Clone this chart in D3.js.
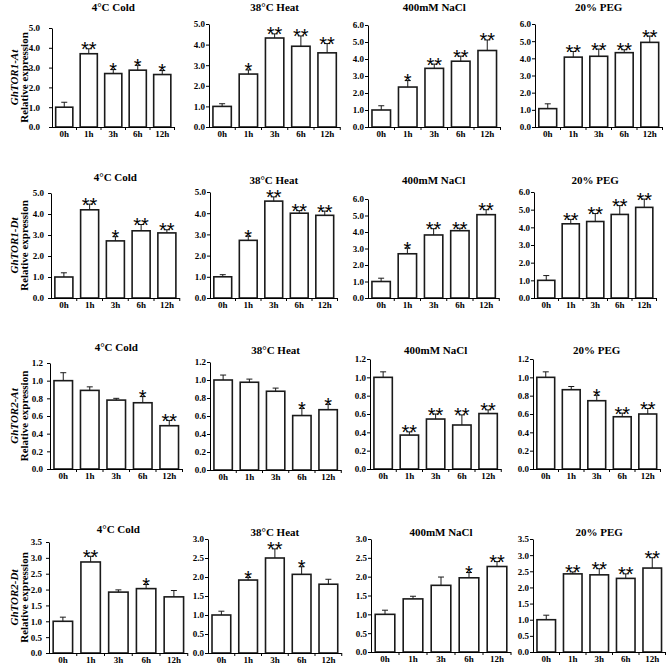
<!DOCTYPE html>
<html>
<head>
<meta charset="utf-8">
<script src="https://cdn.jsdelivr.net/npm/d3@7"></script>
<style>
  html, body { margin: 0; padding: 0; background: #fff; }
  svg { display: block; }
  text { font-family: "Liberation Serif", "Times New Roman", serif; font-weight: bold; fill: #000; }
</style>
</head>
<body>
<svg id="chart" width="669" height="666"></svg>
<script>
// ---------------- DATA ----------------
const genes = ["GhTOR1-At", "GhTOR1-Dt", "GhTOR2-At", "GhTOR2-Dt"];
const treatments = ["4°C Cold", "38°C Heat", "400mM NaCl", "20% PEG"];
const timepoints = ["0h", "1h", "3h", "6h", "12h"];

// rows: treatments (Cold, Heat, NaCl, PEG); columns: timepoints
const tor1AtMean = [
  [1.00, 3.70, 2.70, 2.87, 2.65],
  [1.00, 2.57, 4.32, 3.92, 3.60],
  [1.00, 2.35, 3.45, 3.87, 4.50],
  [1.07, 4.07, 4.12, 4.33, 4.93]
];
const tor1AtErr = [
  [0.25, 0.25, 0.20, 0.25, 0.20],
  [0.13, 0.20, 0.20, 0.50, 0.45],
  [0.25, 0.38, 0.25, 0.30, 0.62],
  [0.28, 0.33, 0.42, 0.17, 0.37]
];
const tor1AtSig = [
  ["", "**", "*", "*", "*"],
  ["", "*", "**", "**", "**"],
  ["", "*", "**", "**", "**"],
  ["", "**", "**", "**", "**"]
];

const tor1DtMean = [
  [1.00, 4.20, 2.72, 3.20, 3.10],
  [1.00, 2.72, 4.57, 4.00, 3.90],
  [1.00, 2.68, 3.82, 4.08, 5.05],
  [1.00, 4.20, 4.33, 4.73, 5.13]
];
const tor1DtErr = [
  [0.20, 0.27, 0.20, 0.30, 0.15],
  [0.10, 0.20, 0.20, 0.12, 0.20],
  [0.20, 0.35, 0.38, 0.15, 0.30],
  [0.27, 0.25, 0.45, 0.50, 0.47]
];
const tor1DtSig = [
  ["", "**", "*", "**", "**"],
  ["", "*", "**", "**", "**"],
  ["", "*", "**", "**", "**"],
  ["", "**", "**", "**", "**"]
];

const tor2AtMean = [
  [1.00, 0.89, 0.78, 0.75, 0.49],
  [1.00, 0.975, 0.875, 0.605, 0.67],
  [1.00, 0.37, 0.545, 0.48, 0.605],
  [1.00, 0.865, 0.745, 0.57, 0.60]
];
const tor2AtErr = [
  [0.09, 0.04, 0.02, 0.07, 0.06],
  [0.055, 0.035, 0.035, 0.08, 0.06],
  [0.06, 0.035, 0.055, 0.11, 0.04],
  [0.06, 0.035, 0.06, 0.04, 0.06]
];
const tor2AtSig = [
  ["", "", "", "*", "**"],
  ["", "", "", "*", "*"],
  ["", "**", "**", "**", "**"],
  ["", "", "*", "**", "**"]
];

const tor2DtMean = [
  [1.00, 2.87, 1.92, 2.03, 1.77],
  [1.00, 1.92, 2.50, 2.07, 1.81],
  [1.00, 1.41, 1.77, 1.97, 2.27],
  [1.00, 2.42, 2.39, 2.28, 2.60]
];
const tor2DtErr = [
  [0.13, 0.18, 0.07, 0.13, 0.20],
  [0.10, 0.07, 0.24, 0.20, 0.13],
  [0.11, 0.07, 0.22, 0.14, 0.13],
  [0.14, 0.06, 0.19, 0.14, 0.32]
];
const tor2DtSig = [
  ["", "**", "", "*", ""],
  ["", "*", "**", "*", ""],
  ["", "", "", "*", "**"],
  ["", "**", "**", "**", "**"]
];

// y-axis tick ranges per panel (max tick, step)
const yAxisMax = [
  [5, 5, 6, 6],
  [5, 5, 6, 6],
  [1.2, 1.2, 1.2, 1.2],
  [3.5, 3.0, 3.0, 3.5]
];
const yAxisStep = [
  [1, 1, 1, 1],
  [1, 1, 1, 1],
  [0.2, 0.2, 0.2, 0.2],
  [0.5, 0.5, 0.5, 0.5]
];

const means = [tor1AtMean, tor1DtMean, tor2AtMean, tor2DtMean];
const errs = [tor1AtErr, tor1DtErr, tor2AtErr, tor2DtErr];
const sigs = [tor1AtSig, tor1DtSig, tor2AtSig, tor2DtSig];

// ---------------- LAYOUT ----------------
const axisX = [[52, 209, 368, 535], [51, 210, 368, 534], [50, 210, 370, 533], [49, 208, 371, 533]];
const bandW = [[24.5, 26.25, 26.5, 25.5], [25.75, 25.5, 26.25, 24.5], [26.5, 26.25, 26.25, 25.5], [27.75, 26.75, 28, 26.5]];
const yTopPx = [[28, 24, 25, 24], [193, 192, 199, 192], [363, 362, 359, 359], [542, 539, 539, 539]];
const yZeroPx = [[127, 127, 127, 127], [298, 298, 298, 298], [469, 470, 469, 469], [653, 653, 652, 652]];
const titleY = [[7, 7, 7, 7], [177, 180, 180, 180], [347, 350, 350, 350], [529, 532, 532, 532]];
const yLabelPad = [[9, 1, 1, 1], [4, 1, 1, 1], [4, 1, 1, 1], [4, 1, 1, 1]];

const svg = d3.select("#chart");
const ink = "#1a1a1a";

for (let r = 0; r < 4; r++) {
  for (let c = 0; c < 4; c++) {
    const ax = axisX[r][c];
    const bw = bandW[r][c];
    const x = d3.scaleBand().domain(timepoints).range([ax, ax + 5 * bw]).paddingInner(0.3).paddingOuter(0.15);
    const y = d3.scaleLinear().domain([0, yAxisMax[r][c]]).range([yZeroPx[r][c], yTopPx[r][c]]);
    const g = svg.append("g");
    const vals = means[r][c], ev = errs[r][c], sv = sigs[r][c];
    const data = timepoints.map((t, i) => ({ t, v: vals[i], e: ev[i], s: sv[i] }));

    // bars
    g.selectAll("rect.bar").data(data).join("rect")
      .attr("class", "bar")
      .attr("x", d => x(d.t))
      .attr("y", d => y(d.v))
      .attr("width", x.bandwidth())
      .attr("height", d => y(0) - y(d.v))
      .attr("fill", "#fff")
      .attr("stroke", ink)
      .attr("stroke-width", 1.6);

    // error bars (upper only)
    g.selectAll("line.err").data(data).join("line")
      .attr("class", "err")
      .attr("x1", d => x(d.t) + x.bandwidth() / 2)
      .attr("x2", d => x(d.t) + x.bandwidth() / 2)
      .attr("y1", d => y(d.v))
      .attr("y2", d => y(d.v + d.e))
      .attr("stroke", ink).attr("stroke-width", 1);
    g.selectAll("line.cap").data(data).join("line")
      .attr("class", "cap")
      .attr("x1", d => x(d.t) + x.bandwidth() / 2 - 3)
      .attr("x2", d => x(d.t) + x.bandwidth() / 2 + 3)
      .attr("y1", d => y(d.v + d.e))
      .attr("y2", d => y(d.v + d.e))
      .attr("stroke", ink).attr("stroke-width", 1);

    // significance stars
    g.selectAll("text.sig").data(data.filter(d => d.s)).join("text")
      .attr("class", "sig")
      .attr("x", d => x(d.t) + x.bandwidth() / 2)
      .attr("y", d => y(d.v + d.e) + 7.5)
      .attr("text-anchor", "middle")
      .style("font-family", "'Liberation Sans', Arial, sans-serif")
      .style("font-weight", "normal")
      .style("font-size", "20px")
      .attr("fill", ink)
      .text(d => d.s);

    // y axis
    const step = yAxisStep[r][c];
    const ticks = d3.range(0, yAxisMax[r][c] + step / 2, step);
    const yAxis = d3.axisLeft(y).tickValues(ticks).tickFormat(d3.format(".1f"))
      .tickSize(3).tickSizeOuter(0).tickPadding(yLabelPad[r][c]);
    const ya = g.append("g").attr("transform", `translate(${ax},0)`).call(yAxis);
    ya.selectAll("text").style("font-size", "9px").style("font-family", "'Liberation Serif', serif").style("font-weight", "bold");
    ya.selectAll("path, line").attr("stroke", "#000");

    // x axis
    const xAxis = d3.axisBottom(x).tickSize(0).tickSizeOuter(0).tickPadding(4);
    const xa = g.append("g").attr("transform", `translate(0,${y(0)})`).call(xAxis);
    xa.select("path.domain").attr("d", `M${ax},0.5H${ax + 5 * bw}`).attr("stroke", "#000");
    xa.selectAll("text").style("font-size", "9px").style("font-family", "'Liberation Serif', serif").style("font-weight", "bold");
    // boundary tick marks between categories
    const bounds = d3.range(1, 6).map(i => ax + i * x.step());
    xa.selectAll("line.bt").data(bounds).join("line")
      .attr("class", "bt")
      .attr("x1", d => d).attr("x2", d => d)
      .attr("y1", 0).attr("y2", 3)
      .attr("stroke", "#000");

    // title
    svg.append("text")
      .attr("x", ax + 2.5 * bw)
      .attr("y", titleY[r][c])
      .attr("text-anchor", "middle")
      .attr("dominant-baseline", "central")
      .style("font-size", "11px")
      .text(treatments[c]);

    // y label (first column only)
    if (c === 0) {
      const mid = (yZeroPx[r][c] + yTopPx[r][c]) / 2;
      svg.append("text")
        .attr("transform", `translate(14,${mid}) rotate(-90)`)
        .attr("text-anchor", "middle")
        .attr("dominant-baseline", "central")
        .style("font-size", "11px")
        .style("font-style", "italic")
        .text(genes[r]);
      svg.append("text")
        .attr("transform", `translate(24,${mid}) rotate(-90)`)
        .attr("text-anchor", "middle")
        .attr("dominant-baseline", "central")
        .style("font-size", "11px")
        .text("Relative expression");
    }
  }
}
</script>
</body>
</html>
